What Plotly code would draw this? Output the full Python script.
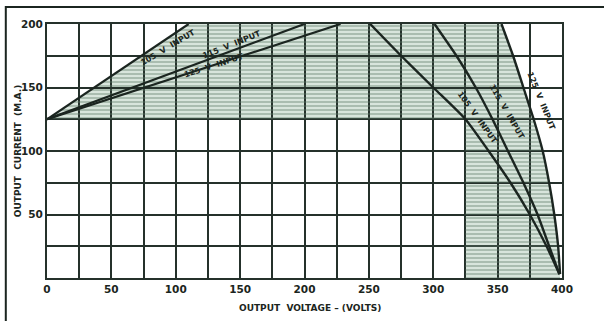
import plotly.graph_objects as go

# output current (mA) vs output voltage (V) for each line input voltage
rise_105_x = [0, 110]
rise_105_y = [125, 200]
rise_115_x = [0, 200]
rise_115_y = [125, 200]
rise_125_x = [0, 228]
rise_125_y = [125, 200]

fall_105_x = [251, 275, 300, 325, 343, 360, 375, 388, 398]
fall_105_y = [200, 175, 150, 125, 100, 75, 50, 25, 3]
fall_115_x = [301, 318, 333, 346, 358, 370, 381, 390, 398]
fall_115_y = [200, 175, 150, 125, 100, 75, 50, 25, 3]
fall_125_x = [353, 362, 370, 378, 385, 390, 394, 397, 398.5]
fall_125_y = [200, 175, 150, 125, 100, 75, 50, 25, 3]

# shaded area: current above 125 mA or voltage above 325 V
shade_min_current = 125
shade_min_voltage = 325

x_grid = [0, 25, 50, 75, 100, 125, 150, 175, 200, 225, 250, 275, 300, 325, 350, 375, 400]
x_labels = ["0", "", "50", "", "100", "", "150", "", "200", "", "250", "", "300", "", "350", "", "400"]
y_grid = [25, 50, 75, 100, 125, 150, 175, 200]
y_labels = ["", "50", "", "100", "", "150", "", "200"]

INK = "#1b2520"
GRID = "#25312b"

# outline of the shaded region, built from the curves
shade_pts = [(rise_105_x[0], rise_105_y[0]), (rise_105_x[-1], rise_105_y[-1])]
shade_pts += list(zip(fall_125_x, fall_125_y))
shade_pts += [(fall_125_x[-1], 0), (shade_min_voltage, 0),
              (shade_min_voltage, shade_min_current), (0, shade_min_current)]
shade_x = [p[0] for p in shade_pts]
shade_y = [p[1] for p in shade_pts]
shade_path = "M " + " L ".join(f"{x},{y}" for x, y in shade_pts) + " Z"

fig = go.Figure()

# hatch lines over the shaded area
fig.add_trace(go.Scatter(
    x=shade_x, y=shade_y, fill="toself", mode="none",
    fillcolor="rgba(0,0,0,0)",
    fillpattern=dict(shape="-", size=4, solidity=0.38,
                     fgcolor="#5f7b6a", bgcolor="rgba(0,0,0,0)"),
    hoverinfo="skip", showlegend=False))

for cx, cy in [(rise_105_x, rise_105_y), (rise_115_x, rise_115_y), (rise_125_x, rise_125_y)]:
    fig.add_trace(go.Scatter(x=cx, y=cy, mode="lines",
                             line=dict(color=INK, width=2.2),
                             hoverinfo="skip", showlegend=False))
for cx, cy in [(fall_105_x, fall_105_y), (fall_115_x, fall_115_y), (fall_125_x, fall_125_y)]:
    fig.add_trace(go.Scatter(x=cx, y=cy, mode="lines",
                             line=dict(color=INK, width=2.4, shape="spline", smoothing=0.6),
                             hoverinfo="skip", showlegend=False))

lbl_font = dict(family="DejaVu Sans", size=8, color=INK, weight="bold")
curve_labels = [
    ("105  V  INPUT", 94, 181.5, -31),
    ("115  V  INPUT", 144, 183.5, -22),
    ("125  V  INPUT", 130, 167, -18),
    ("105  V  INPUT", 334, 126, 54),
    ("115  V  INPUT", 357, 131, 60),
    ("125  V  INPUT", 384, 139, 68),
]
for txt, ax_, ay_, ang in curve_labels:
    fig.add_annotation(x=ax_, y=ay_, text=txt, showarrow=False,
                       textangle=ang, font=lbl_font)

title_font = dict(family="DejaVu Sans", size=9, color=INK, weight="bold")
fig.add_annotation(x=0.51, y=-0.09, xref="paper", yref="paper",
                   text="OUTPUT  VOLTAGE – (VOLTS)", showarrow=False,
                   font=title_font, yanchor="top")
fig.add_annotation(x=-0.056, y=0.5, xref="paper", yref="paper",
                   text="OUTPUT  CURRENT  (M.A.)", showarrow=False,
                   textangle=-90, font=title_font, xanchor="center")

# shaded fill under the grid
fig.add_shape(type="path", path=shade_path, xref="x", yref="y",
              fillcolor="#d8e5dc", line=dict(width=0), layer="below")

# page frame
fig.add_shape(type="rect", xref="paper", yref="paper",
              x0=-0.08, y0=-0.3, x1=1.2, y1=1.067,
              line=dict(color=INK, width=2))

tick_font = dict(family="DejaVu Sans", size=10.5, color=INK, weight="bold")
fig.update_xaxes(range=[0, 400], tickvals=x_grid, ticktext=x_labels,
                 showgrid=True, gridcolor=GRID, gridwidth=1.6,
                 showline=True, linecolor=GRID, linewidth=2, mirror=True,
                 zeroline=False, ticks="", tickfont=tick_font)
fig.update_yaxes(range=[0, 200], tickvals=y_grid, ticktext=y_labels,
                 showgrid=True, gridcolor=GRID, gridwidth=1.6,
                 showline=True, linecolor=GRID, linewidth=2, mirror=True,
                 zeroline=False, ticks="", tickfont=tick_font)

fig.update_layout(width=604, height=321,
                  margin=dict(l=47, r=42, t=24, b=43),
                  plot_bgcolor="white", paper_bgcolor="white")

fig.write_html("out.html", config={"displayModeBar": False},
               post_script="document.body.style.margin='0';")
